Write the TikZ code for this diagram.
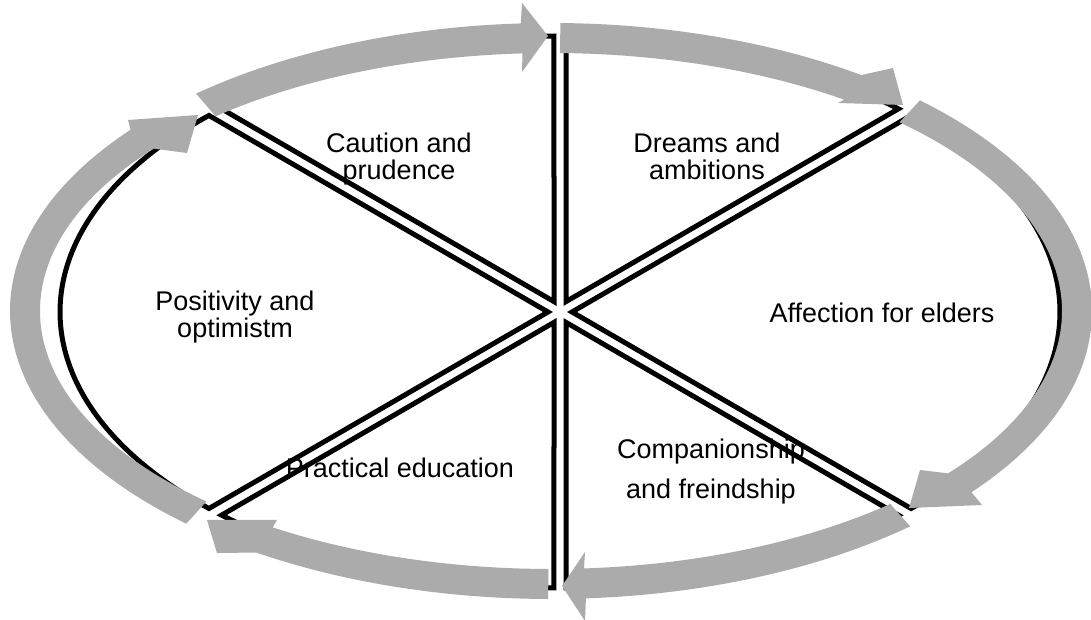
\documentclass[tikz,border=0pt]{standalone}
\usepackage{fontspec}
\setmainfont{Liberation Sans}
\begin{document}
\definecolor{arrowgray}{RGB}{171,171,171}
\begin{tikzpicture}[x=1pt,y=1pt,
  sector/.style={draw=black,line width=5pt,line join=miter},
  cyclearrow/.style={fill=arrowgray,draw=none},
  label/.style={font=\fontsize{27}{27}\selectfont,align=center,inner sep=0pt}]
\useasboundingbox (0,0) rectangle (1091,620);

% six wedges of the ellipse, pulled slightly apart from the centre
\begin{scope}[shift={(560,308)}]
  \draw[sector] (6,10.39) -- (47.4:500 and 276)
    arc[start angle=47.4,end angle=89.31,x radius=500,y radius=276] -- cycle;
  \draw[sector] (-6,10.39) -- (90.69:500 and 276)
    arc[start angle=90.69,end angle=132.6,x radius=500,y radius=276] -- cycle;
  \draw[sector] (-12,0) -- (134.6:500 and 276)
    arc[start angle=134.6,end angle=225.4,x radius=500,y radius=276] -- cycle;
  \draw[sector] (-6,-10.39) -- (227.4:500 and 276)
    arc[start angle=227.4,end angle=269.31,x radius=500,y radius=276] -- cycle;
  \draw[sector] (6,-10.39) -- (270.69:500 and 276)
    arc[start angle=270.69,end angle=312.6,x radius=500,y radius=276] -- cycle;
  \draw[sector] (12,0) -- (-45.4:500 and 276)
    arc[start angle=-45.4,end angle=45.4,x radius=500,y radius=276] -- cycle;
\end{scope}

% six curved block arrows running clockwise round the ellipse
\begin{scope}[shift={(551,309)}]
  \fill[cyclearrow] (131:541 and 288)
    arc[start angle=131,end angle=93.2,x radius=541,y radius=288]
    -- (-29,308) -- (-3,275) -- (-29,239) -- (93.2:511 and 258)
    arc[start angle=93.2,end angle=131,x radius=511,y radius=258] -- cycle;
  \fill[cyclearrow] (89:541 and 288)
    arc[start angle=89,end angle=55,x radius=541,y radius=288]
    -- (342,243) -- (352,206) -- (287,208) -- (55:511 and 258)
    arc[start angle=55,end angle=89,x radius=511,y radius=258] -- cycle;
  \fill[cyclearrow] (47:541 and 288)
    arc[start angle=47,end angle=-39,x radius=541,y radius=288]
    -- (431,-194) -- (358,-197) -- (369,-159) -- (-39:511 and 258)
    arc[start angle=-39,end angle=47,x radius=511,y radius=258] -- cycle;
  \fill[cyclearrow] (-48.4:541 and 288)
    arc[start angle=-48.4,end angle=-86.3,x radius=541,y radius=288]
    -- (34,-310) -- (11,-275) -- (34,-241) -- (-86.3:511 and 258)
    arc[start angle=-86.3,end angle=-48.4,x radius=511,y radius=258] -- cycle;
  \fill[cyclearrow] (269.7:541 and 288)
    arc[start angle=269.7,end angle=237,x radius=541,y radius=288]
    -- (-334,-242) -- (-344,-209) -- (-274,-209) -- (237:511 and 258)
    arc[start angle=237,end angle=269.7,x radius=511,y radius=258] -- cycle;
  \fill[cyclearrow] (227.6:541 and 288)
    arc[start angle=227.6,end angle=141,x radius=541,y radius=288]
    -- (-423,191) -- (-353,196) -- (-364,158) -- (141:511 and 258)
    arc[start angle=141,end angle=227.6,x radius=511,y radius=258] -- cycle;
\end{scope}

% labels of the six wedges
\node[label] (caution)   at (399,460.5) {Caution and\\prudence};
\node[label] (dreams)    at (707,463.5) {Dreams and\\ambitions};
\node[label] (positive)  at (235,303) {Positivity and\\optimistm};
\node[label] (affection) at (882,307) {Affection for elders};
\node[label] (practical) at (400,152) {Practical education};
\node[label,font=\fontsize{27}{40}\selectfont] (companion) at (711,148) {Companionship\\and freindship};
\end{tikzpicture}
\end{document}
